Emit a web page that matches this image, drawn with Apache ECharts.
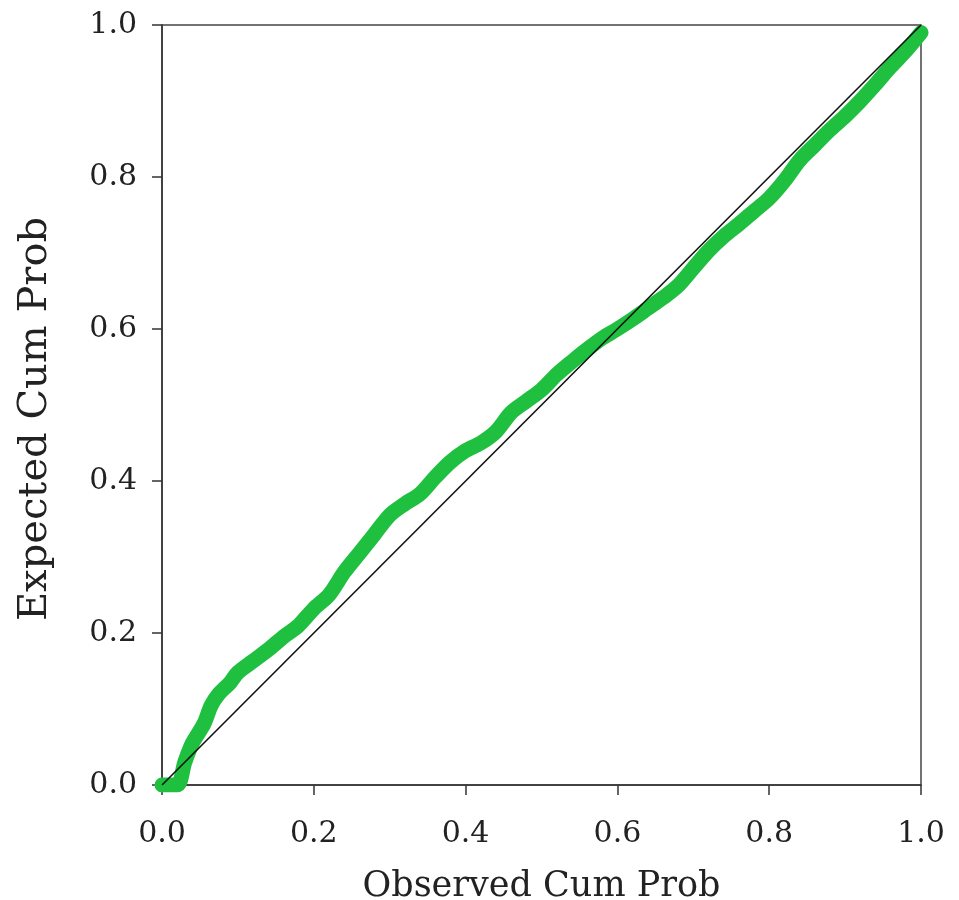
<!DOCTYPE html>
<html>
<head>
<meta charset="utf-8">
<script src="https://cdn.jsdelivr.net/npm/echarts@6/dist/echarts.min.js"></script>
<style>html,body{margin:0;padding:0;background:#fff;}#c{width:959px;height:900px;}</style>
</head>
<body>
<div id="c"></div>
<script>
var observed = [0.0,0.02,0.03,0.04,0.055,0.065,0.075,0.09,0.10,0.12,0.14,0.16,0.18,0.20,0.22,0.24,0.26,0.28,0.30,0.32,0.34,0.36,0.38,0.40,0.42,0.44,0.46,0.48,0.50,0.52,0.54,0.56,0.58,0.60,0.62,0.64,0.66,0.68,0.70,0.72,0.74,0.76,0.78,0.80,0.82,0.84,0.86,0.88,0.90,0.92,0.94,0.96,0.98,1.0];
var expected = [0.0,0.0,0.03,0.055,0.08,0.105,0.12,0.135,0.148,0.163,0.178,0.195,0.21,0.232,0.25,0.28,0.305,0.33,0.355,0.37,0.383,0.405,0.425,0.44,0.45,0.465,0.49,0.505,0.52,0.54,0.557,0.573,0.588,0.600,0.613,0.627,0.641,0.657,0.680,0.703,0.722,0.738,0.755,0.772,0.795,0.822,0.842,0.862,0.88,0.90,0.922,0.945,0.966,0.99];
var refLine = [[0,0],[1,1]];
var xTitle = 'Observed Cum Prob';
var yTitle = 'Expected Cum Prob';

var pts = observed.map(function(x,i){return [x, expected[i]];});
var chart = echarts.init(document.getElementById('c'), null, {renderer:'canvas'});
var font = '"DejaVu Serif", "Liberation Serif", serif';
function axis(name, gap, nameSize){
  return {
    type:'value', min:0, max:1, interval:0.2,
    name:name, nameLocation:'middle', nameGap:gap,
    nameTextStyle:{fontFamily:font, fontSize:nameSize, color:'#222'},
    axisLine:{show:true, lineStyle:{color:'#333', width:1.5}},
    axisTick:{show:true, inside:false, length:10, lineStyle:{color:'#333', width:1.5}},
    axisLabel:{fontFamily:font, fontSize:30, color:'#222', margin:25, formatter:function(v){return v.toFixed(1);}},
    splitLine:{show:false}
  };
}
var xa = axis(xTitle, 84, 35); xa.axisLabel.margin = 34;
var ya = axis(yTitle, 106, 40); ya.nameTextStyle.padding = [0, 28, 0, 0];
chart.setOption({
  animation:false,
  backgroundColor:'#fff',
  grid:{left:162, right:38, top:25, bottom:115, containLabel:false, outerBoundsMode:'none', show:true, borderColor:'#444', borderWidth:1.5, backgroundColor:'transparent'},
  xAxis:xa,
  yAxis:ya,
  series:[
    {type:'line', data:pts, smooth:0.3, showSymbol:false, lineStyle:{color:'#1fbf3f', width:15, cap:'round', join:'round'}},
    {type:'line', data:refLine, showSymbol:false, lineStyle:{color:'#111', width:1.6}}
  ]
});
</script>
</body>
</html>
